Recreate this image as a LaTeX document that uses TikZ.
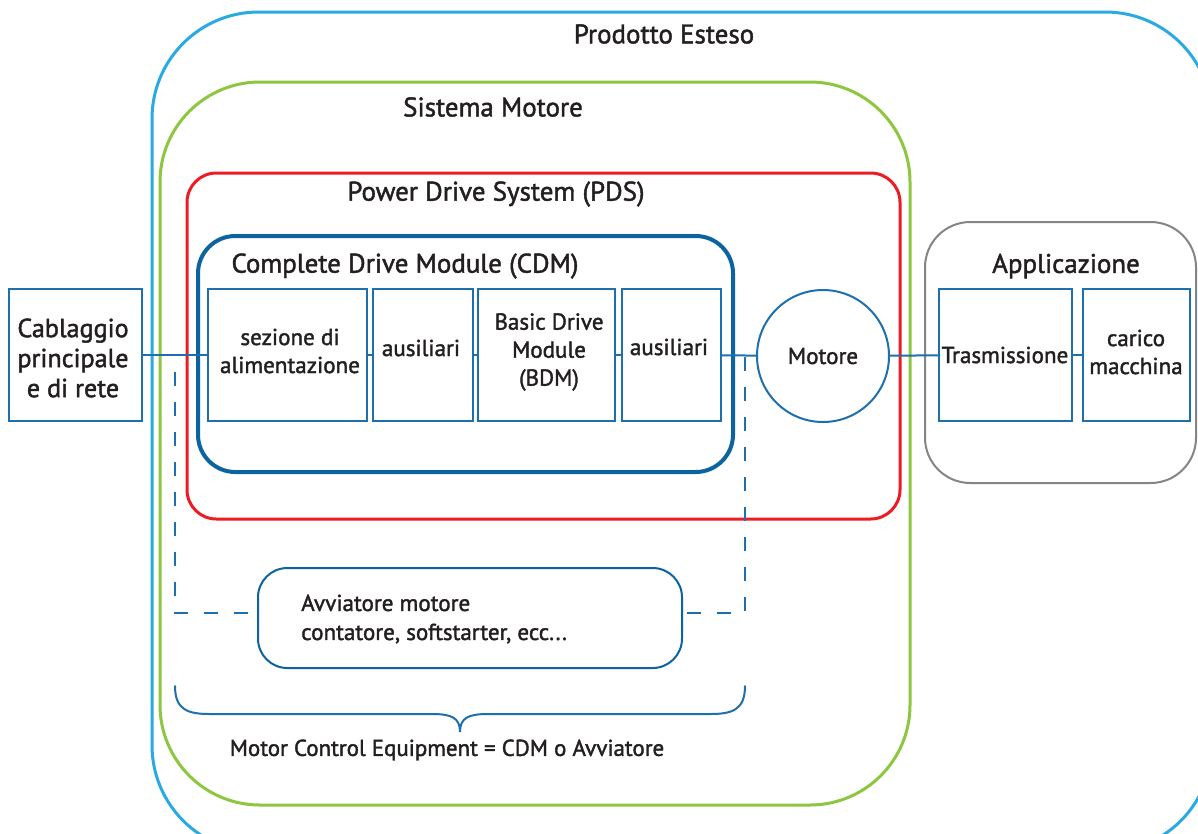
\documentclass[tikz,border=0pt]{standalone}
\usepackage{fontspec}
\setmainfont{PT Sans}[FakeBold=1.6]
\usetikzlibrary{fit}
\definecolor{cyanb}{HTML}{29ABE2}
\definecolor{greenb}{HTML}{8DC63F}
\definecolor{redb}{HTML}{ED1C24}
\definecolor{cdmb}{HTML}{0B64A0}
\definecolor{thinb}{HTML}{1D6FAE}
\definecolor{greyb}{HTML}{858585}
\definecolor{txt}{HTML}{231F20}
\begin{document}
\begin{tikzpicture}[x=0.75pt,y=-0.75pt,
  text=txt,
  title/.style={font=\fontsize{20.2}{24}\selectfont},
  box/.style={draw=thinb, line width=1.5pt, inner sep=0pt},
  lbl/.style={align=center, inner sep=0pt, font=\fontsize{17.3}{21}\selectfont},
  conn/.style={draw=thinb, line width=1.5pt},
  dashconn/.style={draw=thinb, line width=1.5pt, dash pattern=on 10.5pt off 12pt},
]
\useasboundingbox (0,0) rectangle (1198,833);
\clip (0,0) rectangle (1198,833);
\fill[white] (0,0) rectangle (1198,833);
% nested containers
\draw[cyanb, line width=2.25pt, rounded corners=80pt] (152,12) rectangle (1212,852);
\node[title] (tprod) at (664,34) {Prodotto Esteso};
\draw[greenb, line width=2.25pt, rounded corners=75pt] (160,82) rectangle (910,805);
\node[title] (tsis) at (493,107) {Sistema Motore};
\draw[redb, line width=2.25pt, rounded corners=22pt] (187,173) rectangle (900,519);
\node[title] (tpds) at (496,194) {Power Drive System (PDS)};
\draw[cdmb, line width=3pt, rounded corners=28pt] (198,236) rectangle (733,472);
\node[title] (tcdm) at (405,266) {Complete Drive Module (CDM)};
\draw[greyb, line width=1.5pt, rounded corners=34pt] (925,222) rectangle (1196,483);
\node[title] (tapp) at (1066,266) {Applicazione};
% boxes
\node[box, fit={(9,289) (142,421)}] (cab) {};
\node[lbl, font=\fontsize{19.6}{22.5}\selectfont] (cabT) at (73,358) {Cablaggio\\principale\\e di rete};
\node[box, fit={(208,289) (367,421)}] (sez) {};
\node[lbl] (sezT) at (290,351) {sezione di\\alimentazione};
\node[box, fit={(373,289) (473,421)}] (aus1) {};
\node[lbl] (aus1T) at (421,348) {ausiliari};
\node[box, fit={(478,289) (615,421)}] (bdm) {};
\node[lbl] (bdmT) at (549,352) {Basic Drive\\Module\\(BDM)};
\node[box, fit={(622,289) (721,421)}] (aus2) {};
\node[lbl] (aus2T) at (669,347) {ausiliari};
\node[box, circle, minimum size=99pt, lbl] (mot) at (823,356) {Motore};
\node[box, fit={(939,289) (1072,421)}] (tras) {};
\node[lbl] (trasT) at (1005,355) {Trasmissione};
\node[box, fit={(1083,289) (1190,421)}] (car) {};
\node[lbl] (carT) at (1136,352) {carico\\macchina};
\node[box, draw=cdmb, rounded corners=22pt, fit={(258,568) (682,668)}] (avv) {};
\node[anchor=west, align=left, inner sep=0pt, font=\fontsize{17.3}{21.75}\selectfont] (avvT) at (301,619) {Avviatore motore\\contatore, softstarter, ecc...};
% connectors
\draw[conn] (cab) -- (sez);
\draw[conn] (sez) -- (aus1);
\draw[conn] (aus1) -- (bdm);
\draw[conn] (bdm) -- (aus2);
\draw[conn] (aus2) -- (mot);
\draw[conn] (mot) -- (tras);
\draw[conn] (tras) -- (car);
% dashed links to starter
\coordinate (dl) at (175,372);
\coordinate (dlb) at (175,613);
\coordinate (dr) at (745,357);
\coordinate (drb) at (745,613);
\draw[dashconn] (dl) -- (dlb) -- (dlb -| avv.west);
\draw[dashconn] (dr) -- (drb) -- (drb -| avv.east);
% brace
\coordinate (bl) at (175,686);
\coordinate (br) at (745,686);
\coordinate (bt) at (460,732);
\draw[conn, line cap=round] (bl) .. controls (175,710) and (188,714) .. (210,714) -- (432,714)
  .. controls (452,714) and (460,718) .. (bt)
  .. controls (460,718) and (468,714) .. (488,714) -- (710,714)
  .. controls (732,714) and (745,710) .. (br);
\node[font=\fontsize{17.2}{20}\selectfont] (mce) at (447,750) {Motor Control Equipment = CDM o Avviatore};
\end{tikzpicture}
\end{document}
